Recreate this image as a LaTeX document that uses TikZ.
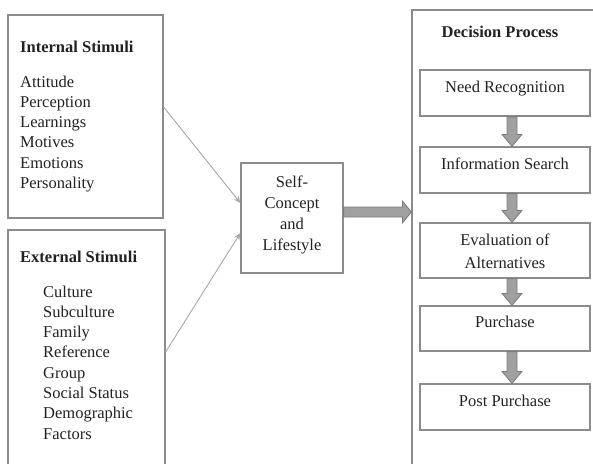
\documentclass[tikz,border=0pt]{standalone}
\usepackage{fontspec}
\setmainfont{Liberation Serif}
\usetikzlibrary{calc,arrows.meta}
\definecolor{boxgray}{HTML}{8C8C8C}
\definecolor{txt}{HTML}{222222}
\definecolor{arrfill}{HTML}{A0A0A0}
\definecolor{arrdraw}{HTML}{7C7C7C}
\definecolor{thin}{HTML}{A8A8A8}
\tikzset{
  panel/.style={draw=boxgray, line width=1.2pt, fill=white, inner sep=0pt},
  lbl/.style={text=txt, font=\fontsize{16.5}{20}\selectfont, inner sep=0pt},
  ttl/.style={lbl, font=\fontsize{16.5}{20}\selectfont\bfseries},
  thinarrow/.style={draw=thin, line width=0.9pt, -{Stealth[length=7pt,width=6pt]}},
  fatarrow/.style={draw=arrdraw, fill=arrfill, line width=0.8pt, line join=miter}
}
\begin{document}
\begin{tikzpicture}[x=1pt,y=-1pt]
\useasboundingbox (0,0) rectangle (593,463);
\clip (0,0) rectangle (593,463);

% left panels
\node[panel, minimum width=155pt, minimum height=203pt] (int) at (85.5,116.5) {};
\node[panel, minimum width=157pt, minimum height=240pt] (ext) at (86.5,350) {};
\node[panel, minimum width=102pt, minimum height=110pt] (self) at (292,218) {};
\node[panel, minimum width=190pt, minimum height=460pt] (dec) at (507,240) {};

% inner decision boxes
\node[panel, minimum width=170pt, minimum height=46pt] (nr) at (505,93) {};
\node[panel, minimum width=170pt, minimum height=46pt] (is) at (505,170) {};
\node[panel, minimum width=170pt, minimum height=55pt] (ea) at (505,250.5) {};
\node[panel, minimum width=170pt, minimum height=45pt] (pu) at (505,328.5) {};
\node[panel, minimum width=170pt, minimum height=46pt] (pp) at (505,407) {};

% texts: internal
\node[ttl, anchor=base west] (intT) at (20,52) {Internal Stimuli};
\foreach \t [count=\i from 0] in {Attitude,Perception,Learnings,Motives,Emotions,Personality}
  \node[lbl, anchor=base west] (int\i) at (20,{87+20.3*\i}) {\t};

% texts: external
\node[ttl, anchor=base west] (extT) at (20,262) {External Stimuli};
\foreach \t [count=\i from 0] in {Culture,Subculture,Family,Reference,Group,Social Status,Demographic,Factors}
  \node[lbl, anchor=base west] (ext\i) at (43,{297+20.3*\i}) {\t};

% self concept
\foreach \t [count=\i from 0] in {Self-,Concept,and,Lifestyle}
  \node[lbl, anchor=base] (self\i) at (292,{187+21.3*\i}) {\t};

% decision texts
\node[ttl, anchor=base] (decT) at (500,37) {Decision Process};
\node[lbl, anchor=base] (nrT) at (505,92) {Need Recognition};
\node[lbl, anchor=base] (isT) at (505,169) {Information Search};
\node[lbl, anchor=base] (eaT1) at (505,245) {Evaluation of};
\node[lbl, anchor=base] (eaT2) at (505,268) {Alternatives};
\node[lbl, anchor=base] (puT) at (505,327) {Purchase};
\node[lbl, anchor=base] (ppT) at (505,406) {Post Purchase};

% thin connectors
\coordinate (intOut) at ($(int.east)+(0,-9.5)$);
\coordinate (extOut) at ($(ext.east)+(0,2)$);
\coordinate (selfIn1) at ($(self.west)+(0,-15)$);
\coordinate (selfIn2) at ($(self.west)+(0,15)$);
\draw[thinarrow] (intOut) -- (selfIn1);
\draw[thinarrow] (extOut) -- (selfIn2);

% fat horizontal arrow self -> decision
\path let \p1=($(self.east)+(0,-6)$), \p2=(dec.west|-\p1) in
  [fatarrow] (\x1,\y1+5pt) -- (\x2-9pt,\y1+5pt) -- (\x2-9pt,\y1+11pt) -- (\x2,\y1)
  -- (\x2-9pt,\y1-11pt) -- (\x2-9pt,\y1-5pt) -- (\x1,\y1-5pt) -- cycle;

% fat down arrows
\foreach \a/\b in {nr/is,is/ea,ea/pu,pu/pp}{
  \path let \p1=($(\a.south)+(7,0)$), \p2=($(\b.north)+(7,0)$) in
    [fatarrow] (\x1-5pt,\y1) -- (\x1-5pt,\y2+12pt) -- (\x1-10pt,\y2+12pt) -- (\x1,\y2)
    -- (\x1+10pt,\y2+12pt) -- (\x1+5pt,\y2+12pt) -- (\x1+5pt,\y1) -- cycle;
}
\end{tikzpicture}
\end{document}
